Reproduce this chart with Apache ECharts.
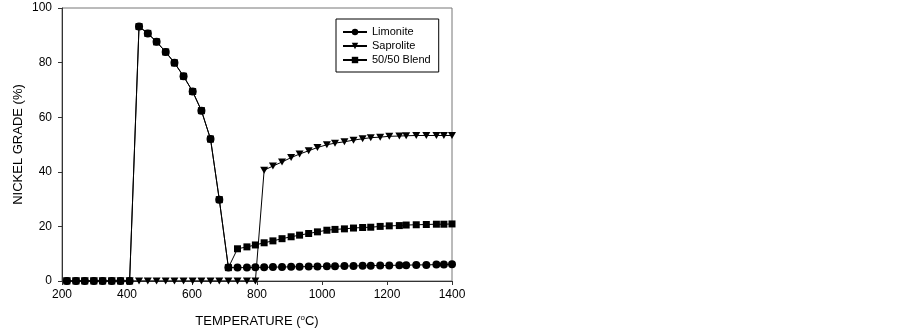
<!DOCTYPE html>
<html>
<head>
<meta charset="utf-8">
<script src="https://cdn.jsdelivr.net/npm/echarts@6/dist/echarts.min.js"></script>
<style>
  html, body { margin: 0; padding: 0; background: #fff; }
  #main { width: 903px; height: 328px; }
</style>
</head>
<body>
<div id="main"></div>
<script>
// temperatures (°C) where the samples were read
const temps = [215, 243, 270, 298, 325, 353, 380, 408, 437, 464, 491, 519, 546, 574, 602, 629, 657, 684,
  712, 740, 769, 795, 822, 849, 877, 905, 931, 959, 986, 1015, 1040, 1069, 1097, 1125, 1150, 1179,
  1207, 1238, 1259, 1290, 1321, 1352, 1375, 1400];

const limonite = [0, 0, 0, 0, 0, 0, 0, 0,
  93.2, 90.7, 87.6, 83.9, 79.9, 75.0, 69.4, 62.4, 52.0, 29.8,
  4.9, 4.9, 4.9, 5.0, 5.0, 5.1, 5.1, 5.2, 5.2, 5.3, 5.3, 5.4, 5.4, 5.5, 5.5, 5.6,
  5.6, 5.7, 5.7, 5.8, 5.8, 5.9, 5.9, 6.0, 6.0, 6.1];

const saprolite = [0, 0, 0, 0, 0, 0, 0, 0, 0, 0, 0, 0, 0, 0, 0, 0, 0, 0, 0, 0, 0, 0,
  40.6, 42.1, 43.6, 45.2, 46.5, 47.7, 48.9, 49.9, 50.5, 51.0, 51.6, 52.1, 52.5, 52.7,
  53.0, 53.1, 53.2, 53.3, 53.3, 53.3, 53.3, 53.3];

const blend = [0, 0, 0, 0, 0, 0, 0, 0,
  93.2, 90.7, 87.6, 83.9, 79.9, 75.0, 69.4, 62.4, 52.0, 29.8,
  4.9, 11.8, 12.5, 13.2, 14.0, 14.7, 15.5, 16.2, 16.8, 17.4, 18.0, 18.6, 18.9, 19.1,
  19.4, 19.6, 19.7, 20.0, 20.2, 20.3, 20.5, 20.6, 20.7, 20.8, 20.8, 20.9];

const seriesNames = ['Limonite', 'Saprolite', '50/50 Blend'];

const pair = vals => temps.map((t, i) => [t, vals[i]]);

const font = '"Liberation Sans", Arial, sans-serif';
const downTriangle = 'path://M0,0 L10,0 L5,9 Z';

function lineSeries(name, vals, symbol, size) {
  return {
    name: name,
    type: 'line',
    data: pair(vals),
    symbol: symbol,
    symbolSize: size,
    showAllSymbol: true,
    animation: false,
    lineStyle: { color: '#000', width: 1 },
    itemStyle: { color: '#000', borderWidth: 0 },
    emphasis: { disabled: true }
  };
}

const chart = echarts.init(document.getElementById('main'));
chart.setOption({
  backgroundColor: '#fff',
  textStyle: { fontFamily: font },
  grid: {
    left: 62, right: 451, top: 8, bottom: 47,
    outerBoundsMode: 'none',
    show: true, borderColor: '#777', borderWidth: 1
  },
  legend: {
    orient: 'vertical',
    left: 336, top: 19,
    padding: [6, 8, 5, 6],
    borderColor: '#000', borderWidth: 1,
    itemWidth: 24, itemHeight: 8, itemGap: 0,
    textStyle: { fontFamily: font, fontSize: 11, color: '#000', lineHeight: 14 },
    data: seriesNames
  },
  xAxis: {
    type: 'value',
    min: 200, max: 1400, interval: 200,
    name: '{t|TEMPERATURE (}{s|o}{t|C)}',
    nameLocation: 'middle',
    nameGap: 33,
    nameTextStyle: {
      rich: {
        t: { fontFamily: font, fontSize: 13, color: '#000' },
        s: { fontFamily: font, fontSize: 8, color: '#000', verticalAlign: 'top', padding: [0, 0, 6, 0] }
      }
    },
    axisLine: { lineStyle: { color: '#333', width: 1 } },
    axisTick: { inside: false, length: 4, lineStyle: { color: '#333' } },
    axisLabel: { fontFamily: font, fontSize: 12, color: '#000', margin: 8, formatter: v => String(v) },
    splitLine: { show: false }
  },
  yAxis: {
    type: 'value',
    min: 0, max: 100, interval: 20,
    name: 'NICKEL GRADE (%)',
    nameLocation: 'middle',
    nameGap: 37,
    nameTextStyle: { fontFamily: font, fontSize: 13, color: '#000' },
    axisLine: { show: true, lineStyle: { color: '#333', width: 1 } },
    axisTick: { show: true, inside: false, length: 4, lineStyle: { color: '#333' } },
    axisLabel: { fontFamily: font, fontSize: 12, color: '#000', margin: 10 },
    splitLine: { show: false }
  },
  series: [
    lineSeries(seriesNames[0], limonite, 'circle', 8),
    lineSeries(seriesNames[1], saprolite, downTriangle, [8, 7]),
    lineSeries(seriesNames[2], blend, 'rect', 7)
  ]
});
</script>
</body>
</html>
